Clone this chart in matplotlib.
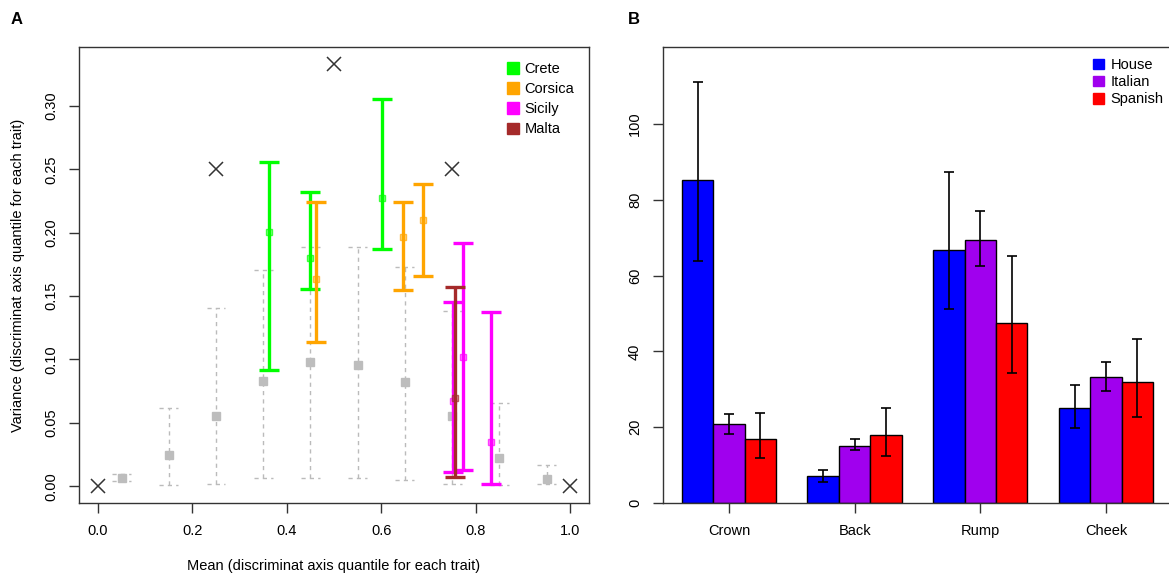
import numpy as np
import matplotlib.pyplot as plt
from matplotlib.patches import Patch
from matplotlib.colors import to_rgba

plt.rcParams['font.family'] = ['Liberation Sans', 'DejaVu Sans']
plt.rcParams['font.size'] = 10.5

# ---- panel A: grey reference bins (mean, variance, interval) ----
null_x = [0.05, 0.15, 0.25, 0.35, 0.45, 0.55, 0.65, 0.75, 0.85, 0.95]
null_var = [0.0066, 0.0242, 0.0557, 0.0828, 0.0977, 0.0959, 0.0820, 0.0552, 0.0220, 0.0058]
null_lo = [0.0040, 0.0008, 0.0018, 0.0066, 0.0066, 0.0066, 0.0047, 0.0018, 0.0008, 0.0018]
null_hi = [0.0092, 0.0617, 0.1410, 0.1708, 0.1890, 0.1890, 0.1726, 0.1385, 0.0657, 0.0170]

# limit points of the mean/variance space
corner_x = [0.0, 0.25, 0.5, 0.75, 1.0]
corner_y = [0.0, 0.25, 0.3333, 0.25, 0.0]

# islands
crete_x = [0.363, 0.450, 0.602]
crete_y = [0.2005, 0.1800, 0.2273]
crete_lo = [0.0914, 0.1555, 0.1871]
crete_hi = [0.2559, 0.2320, 0.3056]

corsica_x = [0.461, 0.645, 0.689]
corsica_y = [0.1634, 0.1963, 0.2102]
corsica_lo = [0.1135, 0.1545, 0.1660]
corsica_hi = [0.2241, 0.2241, 0.2386]

sicily_x = [0.752, 0.773, 0.833]
sicily_y = [0.0670, 0.1017, 0.0347]
sicily_lo = [0.0110, 0.0131, 0.0018]
sicily_hi = [0.1453, 0.1923, 0.1374]

malta_x = [0.756]
malta_y = [0.0699]
malta_lo = [0.0076]
malta_hi = [0.1574]

# ---- panel B: plumage traits ----
traits = ["Crown", "Back", "Rump", "Cheek"]
house = [85.3, 7.2, 66.8, 25.0]
house_lo = [63.9, 5.5, 51.2, 19.7]
house_hi = [111.1, 8.8, 87.2, 31.1]
italian = [20.8, 15.1, 69.3, 33.2]
italian_lo = [18.3, 13.9, 62.6, 29.5]
italian_hi = [23.4, 17.0, 77.0, 37.2]
spanish = [16.8, 18.0, 47.4, 31.8]
spanish_lo = [12.0, 12.3, 34.4, 22.8]
spanish_hi = [23.8, 25.0, 65.2, 43.3]

fig = plt.figure(figsize=(11.69, 5.76), dpi=100)
axA = fig.add_axes([0.0676, 0.1267, 0.4363, 0.7917])
axB = fig.add_axes([0.5671, 0.1267, 0.4354, 0.7917])

# grey dashed intervals
nx = np.array(null_x)
cap = 0.02
grey = '#bbbbbb'
axA.vlines(nx, null_lo, null_hi, colors=grey, linestyles=(0, (3, 3)), lw=1)
axA.hlines(null_lo, nx - cap, nx + cap, colors=grey, linestyles=(0, (3, 3)), lw=1)
axA.hlines(null_hi, nx - cap, nx + cap, colors=grey, linestyles=(0, (3, 3)), lw=1)
axA.plot(nx, null_var, 's', color='#bdbdbd', ms=5.5, ls='none')

islands = [
    ("Crete", "#00ff00", crete_x, crete_y, crete_lo, crete_hi),
    ("Corsica", "#ffa500", corsica_x, corsica_y, corsica_lo, corsica_hi),
    ("Sicily", "#ff00ff", sicily_x, sicily_y, sicily_lo, sicily_hi),
    ("Malta", "#a52a2a", malta_x, malta_y, malta_lo, malta_hi),
]
for name, col, xs, ys, lo, hi in islands:
    ys = np.array(ys)
    err = [ys - np.array(lo), np.array(hi) - ys]
    axA.errorbar(xs, ys, yerr=err, fmt='none', ecolor=col,
                 elinewidth=2.4, capsize=7, capthick=2.4)
    axA.plot(xs, ys, 's', ms=5, ls='none',
             mfc=to_rgba(col, 0.45), mec=to_rgba(col, 0.7), mew=1)

axA.plot(corner_x, corner_y, 'x', color='#333333', ms=10, mew=1.1, ls='none')

axA.set_xlim(-0.04, 1.04)
axA.set_ylim(-0.01333, 0.34667)
axA.set_xticks(np.arange(0, 1.01, 0.2))
axA.set_xticklabels([f"{v:.1f}" for v in np.arange(0, 1.01, 0.2)])
axA.set_yticks(np.arange(0, 0.301, 0.05))
axA.set_yticklabels([f"{v:.2f}" for v in np.arange(0, 0.301, 0.05)])

handlesA = [Patch(color=c) for _, c, *_ in islands]
axA.legend(handlesA, [n for n, *_ in islands], loc='upper left',
           bbox_to_anchor=(0.839, 0.967), frameon=False, borderpad=0,
           borderaxespad=0, handlelength=0.85, handleheight=0.85,
           handletextpad=0.35, labelspacing=0.42)

# panel B bars
gc = 2.5 + 4 * np.arange(len(traits))
groups = [
    ("House", "#0000ff", house, house_lo, house_hi),
    ("Italian", "#a000ee", italian, italian_lo, italian_hi),
    ("Spanish", "#ff0000", spanish, spanish_lo, spanish_hi),
]
for j, (name, col, vals, lo, hi) in enumerate(groups):
    xs = gc + (j - 1)
    axB.bar(xs, vals, width=1, color=col, edgecolor='black', lw=1, zorder=2)
for j, (name, col, vals, lo, hi) in enumerate(groups):
    xs = gc + (j - 1)
    v = np.array(vals)
    axB.errorbar(xs, v, yerr=[v - np.array(lo), np.array(hi) - v], fmt='none',
                 ecolor='black', elinewidth=1.2, capsize=3.5, capthick=1.2, zorder=3)

axB.set_xlim(0.4, 16.6)
axB.set_ylim(0, 120.3)
axB.set_yticks(np.arange(0, 101, 20))
axB.set_xticks(gc)
axB.set_xticklabels(traits)
axB.legend([Patch(color=c) for _, c, *_ in groups], [g[0] for g in groups],
           loc='upper left', bbox_to_anchor=(0.845, 0.976), frameon=False,
           borderpad=0, borderaxespad=0, handlelength=0.75, handleheight=0.75,
           handletextpad=0.45, labelspacing=0.22)

for ax in (axA, axB):
    for s in ax.spines.values():
        s.set_color('#333333')
        s.set_linewidth(1)
    ax.tick_params(direction='out', length=7, width=1, color='#333333', pad=8)
    ax.tick_params(axis='y', labelrotation=90)
    for lab in ax.get_yticklabels():
        lab.set_va('center')

fig.text(334 / 1169, 1 - 566 / 576, "Mean (discriminat axis quantile for each trait)",
         ha='center', va='center')
fig.text(18 / 1169, 1 - 275 / 576, "Variance (discriminat axis quantile for each trait)",
         ha='center', va='center', rotation=90)
fig.text(17 / 1169, 1 - 19 / 576, "A", ha='center', va='center', fontsize=12, fontweight='bold')
fig.text(634 / 1169, 1 - 19 / 576, "B", ha='center', va='center', fontsize=12, fontweight='bold')

fig.savefig('out.png', dpi=100)
